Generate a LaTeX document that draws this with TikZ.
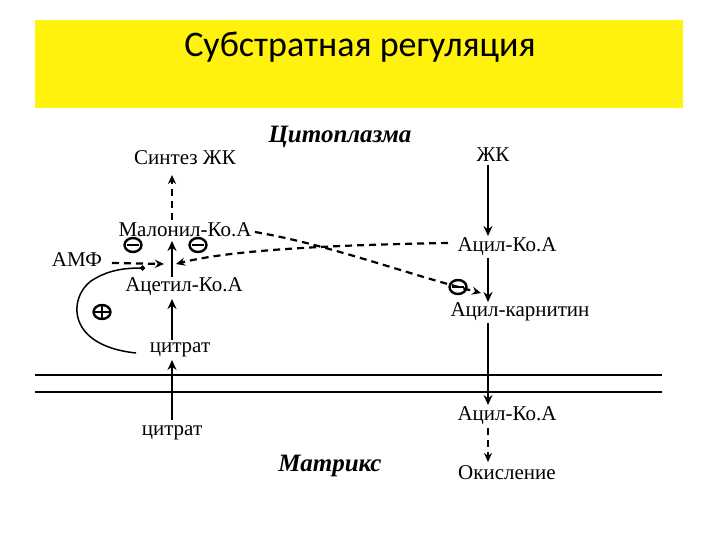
\documentclass[tikz,border=0pt]{standalone}
\usepackage{fontspec}
\setmainfont{Liberation Serif}
\newfontfamily\titlefont{Carlito}
\usetikzlibrary{arrows.meta}
\begin{document}
\begin{tikzpicture}[x=1pt,y=-1pt,
  lbl/.style={inner sep=1pt,font=\fontsize{21}{24}\selectfont},
  hdr/.style={font=\fontsize{25}{28}\selectfont\bfseries\itshape},
  solidarr/.style={line width=2.2pt,-{Stealth[length=10pt,width=9pt]}},
  thinarr/.style={line width=1.3pt,-{Stealth[length=10pt,width=9pt]}},
  dasharr/.style={line width=2.2pt,dash pattern=on 7pt off 5pt,-{Stealth[length=9pt,width=8pt]}},
  memb/.style={line width=2.8pt}]
\useasboundingbox (0,0) rectangle (720,540);
\fill[yellow!95!white] (35,20) rectangle (683,108);
\node[font=\titlefont\fontsize{36}{40}\selectfont] (title) at (360,47) {Субстратная регуляция};
\node[hdr] (cyt) at (340,137) {Цитоплазма};
\node[hdr] (mat) at (330,466) {Матрикс};
\node[lbl] (syn) at (185,158) {Синтез ЖК};
\node[lbl] (fa) at (493,155) {ЖК};
\node[lbl] (mal) at (185,230) {Малонил-Ко.А};
\node[lbl] (acyl1) at (507,247) {Ацил-Ко.А};
\node[lbl] (amf) at (77,260) {АМФ};
\node[lbl] (acet) at (184,287) {Ацетил-Ко.А};
\node[lbl] (carn) at (520,312) {Ацил-карнитин};
\node[lbl] (cit1) at (180,350) {цитрат};
\node[lbl] (cit2) at (172,433) {цитрат};
\node[lbl] (acyl2) at (507,416) {Ацил-Ко.А};
\node[lbl] (ox) at (507,473) {Окисление};
% membrane
\coordinate (m1a) at (35,375); \coordinate (m1b) at (662,375);
\coordinate (m2a) at (35,392); \coordinate (m2b) at (662,392);
\draw[memb] (m1a) -- (m1b);
\draw[memb] (m2a) -- (m2b);
% signs
\foreach \n/\x/\y in {s1/133/245,s2/198/245,s3/458/287}{
  \draw[line width=2.4pt] (\x,\y) ellipse (8.5pt and 7pt);
  \draw[line width=2.4pt] (\x-6,\y) -- (\x+6,\y);
}
\draw[line width=2.4pt] (102,312) ellipse (8.5pt and 7pt);
\draw[line width=2.4pt] (94,312) -- (110,312) (102,305) -- (102,319);
% right chain
\draw[solidarr] (488,165) -- (488,236);
\draw[solidarr] (488,258) -- (488,302);
\draw[thinarr] (488,323) -- (488,405);
\draw[dasharr] (488,428) -- (488,462);
% left chain
\draw[dasharr] (172,220) -- (172,175);
\draw[solidarr] (172,277) -- (172,241);
\draw[solidarr] (172,340) -- (172,299);
\draw[thinarr] (172,420) -- (172,360);
% regulators
\coordinate (amfe) at (164,264);
\draw[dasharr] (112,263) -- (amfe);
\draw[dasharr] (448,243) .. controls (330,245) and (230,250) .. (176,264);
\draw[dasharr] (255,232) .. controls (330,245) and (400,272) .. (481,293);
\draw[line width=1.5pt,-{Circle[length=5pt]}] (136,353) .. controls (60,345) and (70,290) .. (96,278) .. controls (110,270) and (125,268) .. (145,268);
\end{tikzpicture}
\end{document}
